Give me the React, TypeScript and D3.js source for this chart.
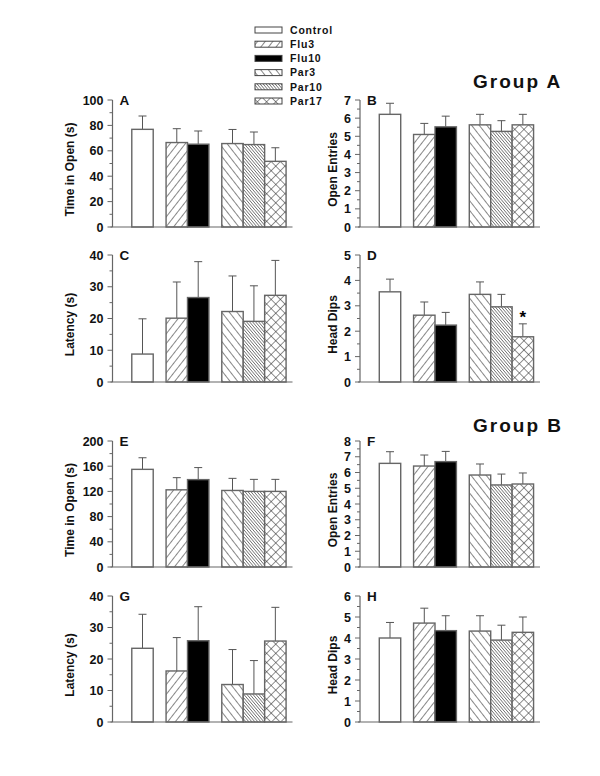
import React from 'react';
import * as d3 from 'd3';

const categories = ['Control', 'Flu3', 'Flu10', 'Par3', 'Par10', 'Par17'];
const patternIds = ['pControl', 'pFlu3', 'pFlu10', 'pPar3', 'pPar10', 'pPar17'];

const meansA = [76.9, 66.5, 65.2, 65.7, 64.9, 51.7];
const semA = [10.5, 10.9, 10.4, 11.1, 9.9, 10.7];
const meansB = [6.21, 5.1, 5.52, 5.63, 5.27, 5.63];
const semB = [0.61, 0.61, 0.59, 0.58, 0.59, 0.58];
const meansC = [8.8, 20.1, 26.6, 22.2, 19.1, 27.3];
const semC = [11.1, 11.4, 11.3, 11.2, 11.2, 11.0];
const meansD = [3.55, 2.63, 2.24, 3.45, 2.96, 1.78];
const semD = [0.5, 0.52, 0.5, 0.49, 0.49, 0.51];
const meansE = [155, 122.5, 138.7, 121.5, 120, 120];
const semE = [18.4, 19.3, 19.1, 19.2, 19.1, 19.1];
const meansF = [6.58, 6.41, 6.69, 5.84, 5.21, 5.27];
const semF = [0.74, 0.7, 0.65, 0.7, 0.69, 0.7];
const meansG = [23.4, 16.2, 25.8, 11.9, 8.9, 25.7];
const semG = [10.8, 10.6, 10.8, 11.1, 10.6, 10.7];
const meansH = [4.0, 4.71, 4.35, 4.33, 3.9, 4.27];
const semH = [0.74, 0.71, 0.71, 0.73, 0.71, 0.73];

const ticksA = [0, 20, 40, 60, 80, 100];
const ticksB = [0, 1, 2, 3, 4, 5, 6, 7];
const ticksC = [0, 10, 20, 30, 40];
const ticksD = [0, 1, 2, 3, 4, 5];
const ticksE = [0, 40, 80, 120, 160, 200];
const ticksF = [0, 1, 2, 3, 4, 5, 6, 7, 8];
const ticksG = [0, 10, 20, 30, 40];
const ticksH = [0, 1, 2, 3, 4, 5, 6];

// bar slot starts (in bar-width units) – layout
const slotStarts = [0.9, 2.5, 3.5, 5.1, 6.1, 7.1];

const FONT = 'Arial, "Liberation Sans", Helvetica, sans-serif';

type PanelProps = {
  letter: string;
  ylabel: string;
  means: number[];
  sem: number[];
  ticks: number[];
  axisX: number;
  top: number;
  bottom: number;
  labelX: number;
  star?: number;
};

const Panel = ({ letter, ylabel, means, sem, ticks, axisX, top, bottom, labelX, star }: PanelProps) => {
  const x = d3.scaleLinear().domain([0, 8.4]).range([axisX, axisX + 180]);
  const y = d3.scaleLinear().domain([0, ticks[ticks.length - 1]]).range([bottom, top]);
  const step = ticks[1] - ticks[0];
  const minors = ticks.slice(0, -1).map((t) => t + step / 2);
  const bw = x(1) - x(0);
  return (
    <g>
      {means.map((m, i) => {
        const x0 = x(slotStarts[i]);
        const cx = x0 + bw / 2;
        const yt = y(m + sem[i]);
        return (
          <g key={i}>
            <line x1={cx} x2={cx} y1={y(m)} y2={yt} stroke="#555" strokeWidth={1} />
            <line x1={cx - 4} x2={cx + 4} y1={yt} y2={yt} stroke="#555" strokeWidth={1} />
            <rect x={x0} y={y(m)} width={bw} height={y(0) - y(m)} fill={`url(#${patternIds[i]})`} stroke="#666" strokeWidth={1.4} />
          </g>
        );
      })}
      {star !== undefined && (
        <text x={x(slotStarts[star]) + bw / 2} y={y(means[star] + sem[star]) - 1} textAnchor="middle" fontFamily={FONT} fontWeight="bold" fontSize={17}>*</text>
      )}
      <line x1={axisX} x2={axisX} y1={top} y2={bottom} stroke="#666" strokeWidth={1.2} />
      <line x1={axisX - 2} x2={x(8.4)} y1={bottom} y2={bottom} stroke="#666" strokeWidth={1.2} />
      {ticks.map((t) => (
        <g key={'t' + t}>
          <line x1={axisX - 5} x2={axisX} y1={y(t)} y2={y(t)} stroke="#666" strokeWidth={1} />
          <text x={axisX - 9} y={y(t)} dy="0.36em" textAnchor="end" fontFamily={FONT} fontWeight="bold" fontSize={12.5} fill="#111">{t}</text>
        </g>
      ))}
      {minors.map((t) => (
        <line key={'m' + t} x1={axisX - 3} x2={axisX} y1={y(t)} y2={y(t)} stroke="#666" strokeWidth={1} />
      ))}
      <text x={axisX + 7} y={top + 5} fontFamily={FONT} fontWeight="bold" fontSize={13.5} fill="#111">{letter}</text>
      <text transform={`translate(${labelX},${(top + bottom) / 2 + 6}) rotate(-90)`} textAnchor="middle" dy="0.35em" fontFamily={FONT} fontWeight="bold" fontSize={12} fill="#111">{ylabel}</text>
    </g>
  );
};

export default function App() {
  const L = 112.5;
  const R = 360;
  const rows = [
    [100, 227],
    [255, 382],
    [441, 567],
    [596, 722],
  ];
  return (
    <svg width={600} height={776} style={{ position: 'absolute', left: 0, top: 0, background: '#fff' }}>
      <defs>
        <pattern id="pControl" patternUnits="userSpaceOnUse" width={4} height={4}>
          <rect width={4} height={4} fill="#fff" />
        </pattern>
        <pattern id="pFlu3" patternUnits="userSpaceOnUse" width={6} height={6} patternTransform="rotate(38)">
          <rect width={6} height={6} fill="#fff" />
          <line x1={0} y1={0} x2={0} y2={6} stroke="#222" strokeWidth={1.1} />
        </pattern>
        <pattern id="pFlu10" patternUnits="userSpaceOnUse" width={4} height={4}>
          <rect width={4} height={4} fill="#000" />
        </pattern>
        <pattern id="pPar3" patternUnits="userSpaceOnUse" width={6} height={6} patternTransform="rotate(-38)">
          <rect width={6} height={6} fill="#fff" />
          <line x1={0} y1={0} x2={0} y2={6} stroke="#222" strokeWidth={1.1} />
        </pattern>
        <pattern id="pPar10" patternUnits="userSpaceOnUse" width={2.3} height={4} patternTransform="rotate(-40)">
          <rect width={2.3} height={4} fill="#fff" />
          <line x1={0} y1={0} x2={0} y2={4} stroke="#222" strokeWidth={1} />
        </pattern>
        <pattern id="pPar17" patternUnits="userSpaceOnUse" width={6.5} height={6.5} patternTransform="rotate(45)">
          <rect width={6.5} height={6.5} fill="#fff" />
          <line x1={0} y1={0} x2={0} y2={6.5} stroke="#222" strokeWidth={1} />
          <line x1={0} y1={0} x2={6.5} y2={0} stroke="#222" strokeWidth={1} />
        </pattern>
      </defs>
      <rect width={600} height={776} fill="#fff" />

      {/* legend */}
      {categories.map((c, i) => {
        const cy = 30 + i * 14.2;
        return (
          <g key={c}>
            <rect x={255} y={cy - 3} width={27} height={6} fill={`url(#${patternIds[i]})`} stroke="#444" strokeWidth={1} />
            <text x={290} y={cy} dy="0.36em" fontFamily={FONT} fontWeight="bold" fontSize={10.5} letterSpacing={0.8} fill="#111">{c}</text>
          </g>
        );
      })}

      <text x={473} y={88} fontFamily={FONT} fontWeight="bold" fontSize={19} letterSpacing={2} fill="#111">Group A</text>
      <text x={473} y={432} fontFamily={FONT} fontWeight="bold" fontSize={19} letterSpacing={2} fill="#111">Group B</text>

      <Panel letter="A" ylabel="Time in Open (s)" means={meansA} sem={semA} ticks={ticksA} axisX={L} top={rows[0][0]} bottom={rows[0][1]} labelX={70} />
      <Panel letter="B" ylabel="Open Entries" means={meansB} sem={semB} ticks={ticksB} axisX={R} top={rows[0][0]} bottom={rows[0][1]} labelX={333} />
      <Panel letter="C" ylabel="Latency (s)" means={meansC} sem={semC} ticks={ticksC} axisX={L} top={rows[1][0]} bottom={rows[1][1]} labelX={70} />
      <Panel letter="D" ylabel="Head Dips" means={meansD} sem={semD} ticks={ticksD} axisX={R} top={rows[1][0]} bottom={rows[1][1]} labelX={333} star={5} />
      <Panel letter="E" ylabel="Time in Open (s)" means={meansE} sem={semE} ticks={ticksE} axisX={L} top={rows[2][0]} bottom={rows[2][1]} labelX={70} />
      <Panel letter="F" ylabel="Open Entries" means={meansF} sem={semF} ticks={ticksF} axisX={R} top={rows[2][0]} bottom={rows[2][1]} labelX={333} />
      <Panel letter="G" ylabel="Latency (s)" means={meansG} sem={semG} ticks={ticksG} axisX={L} top={rows[3][0]} bottom={rows[3][1]} labelX={70} />
      <Panel letter="H" ylabel="Head Dips" means={meansH} sem={semH} ticks={ticksH} axisX={R} top={rows[3][0]} bottom={rows[3][1]} labelX={333} />
    </svg>
  );
}
